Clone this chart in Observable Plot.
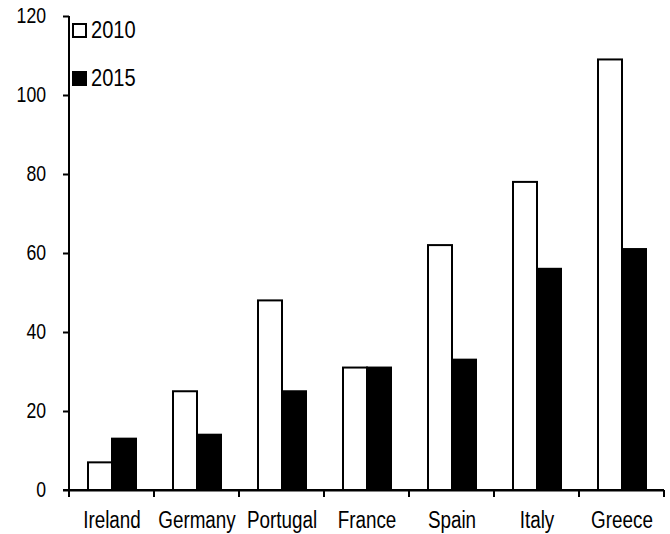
<!DOCTYPE html>
<html>
<head>
<meta charset="utf-8">
<script src="https://cdn.jsdelivr.net/npm/d3@7"></script>
<script src="https://cdn.jsdelivr.net/npm/@observablehq/plot@0.6"></script>
<style>
  html, body { margin: 0; padding: 0; background: #fff; }
  #wrap { position: relative; width: 670px; height: 534px; font-family: "Liberation Sans", Arial, sans-serif; }
  .legend { position: absolute; left: 72px; font-size: 24.5px; color: #000; display: flex; align-items: center; line-height: 1; }
  .legend span { display: inline-block; transform: scaleX(0.82); transform-origin: left center; }
  .sw { width: 11px; height: 11px; border: 2px solid #000; margin-right: 4px; }
</style>
</head>
<body>
<div id="wrap"></div>
<script>
const countries = ["Ireland", "Germany", "Portugal", "France", "Spain", "Italy", "Greece"];
const years = ["2010", "2015"];
const values2010 = [7, 25, 48, 31, 62, 78, 109];
const values2015 = [13, 14, 25, 31, 33, 56, 61];
const yTicks = [0, 20, 40, 60, 80, 100, 120];
const yearFills = ["white", "black"];

const data = [];
countries.forEach((c, i) => {
  data.push({country: c, year: years[0], value: values2010[i]});
  data.push({country: c, year: years[1], value: values2015[i]});
});

const W = 670, H = 534;
const plot = Plot.plot({
  width: W,
  height: H,
  marginLeft: 67,
  marginRight: 5,
  marginTop: 16,
  marginBottom: 44,
  style: {fontFamily: "'Liberation Sans', Arial, sans-serif", fontSize: "22px", color: "#000", background: "white"},
  fx: {domain: countries, padding: 0, label: null},
  x: {domain: years, paddingInner: 0, paddingOuter: 0.74, axis: null},
  y: {domain: [0, 120], label: null, grid: false},
  color: {domain: years, range: yearFills},
  facet: {data: data, x: "country"},
  marks: [
    Plot.axisY({ticks: yTicks, tickSize: 6, tickPadding: 17.5, fontSize: 21.5, strokeWidth: 2, label: null}),
    Plot.axisFx({anchor: "bottom", tickSize: 0, tickPadding: 21, fontSize: 23, label: null}),
    Plot.barY(data, {x: "year", y: "value", fill: "year", stroke: "black", strokeWidth: 2, inset: 0}),
    Plot.ruleY([0], {stroke: "black", strokeWidth: 2})
  ]
});

const svg = d3.select(plot.tagName === "svg" ? plot : plot.querySelector("svg"));

// narrow (Arial Narrow-like) lettering: condense each label about its own anchor
function condense(sel, size) {
  sel.each(function () {
    const t = d3.select(this);
    t.attr("font-size", size).style("font-size", size + "px").attr("fill", "#000");
    let tr = t.attr("transform");
    if (!tr) {
      const x = +t.attr("x") || 0, yy = +t.attr("y") || 0;
      t.attr("x", null).attr("y", null);
      tr = `translate(${x},${yy})`;
    }
    t.attr("transform", tr + " scale(0.82,1)");
  });
}
condense(svg.selectAll("[aria-label='y-axis tick label'] text"), 21.5);
condense(svg.selectAll("[aria-label='fx-axis tick label'] text"), 23);

// axis lines and category boundary ticks, positioned with the plot's own scales
const fx = plot.scale("fx");
const y = plot.scale("y");
const y0 = y.apply(0), yTop = y.apply(120);
const left = fx.apply(countries[0]);
const bounds = countries.map(c => fx.apply(c)).concat([fx.apply(countries[countries.length - 1]) + fx.bandwidth]);
svg.append("line").attr("x1", left).attr("x2", left).attr("y1", yTop).attr("y2", y0)
  .attr("stroke", "black").attr("stroke-width", 2);
svg.append("line").attr("x1", left - 6).attr("x2", bounds[bounds.length - 1]).attr("y1", y0).attr("y2", y0)
  .attr("stroke", "black").attr("stroke-width", 2);
bounds.forEach(b => {
  svg.append("line").attr("x1", b).attr("x2", b).attr("y1", y0).attr("y2", y0 + 7)
    .attr("stroke", "black").attr("stroke-width", 2);
});
svg.selectAll("[aria-label='y-axis tick']").attr("stroke-width", 2);

const wrap = document.getElementById("wrap");
wrap.appendChild(plot);

// legend
const legTops = [18, 66];
years.forEach((yr, i) => {
  const d = document.createElement("div");
  d.className = "legend";
  d.style.top = legTops[i] + "px";
  const sw = document.createElement("div");
  sw.className = "sw";
  sw.style.background = yearFills[i];
  d.appendChild(sw);
  const t = document.createElement("span");
  t.textContent = yr;
  d.appendChild(t);
  wrap.appendChild(d);
});

// force a layout pass so the restyled labels are painted at their final size
svg.selectAll("text").each(function () { this.getBoundingClientRect(); getComputedStyle(this).fontSize; });
</script>
</body>
</html>
